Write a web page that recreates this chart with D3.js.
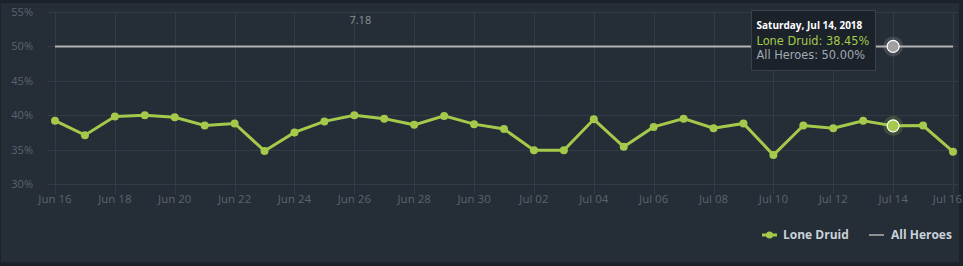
<!DOCTYPE html>
<html>
<head>
<meta charset="utf-8">
<script src="https://cdn.jsdelivr.net/npm/d3@7"></script>
<style>
  body { margin: 0; background: #1b2229; }
  #chart { position: absolute; left: 0; top: 0; }
  text { font-family: "Open Sans", "DejaVu Sans", sans-serif; }
</style>
</head>
<body>
<div id="chart"></div>
<script>
// daily win rate, Jun 16 - Jul 16 2018
var startDay = "2018-06-16";
var loneDruid = [39.2, 37.1, 39.8, 40.0, 39.7, 38.5, 38.8, 34.8, 37.5, 39.1,
                 40.0, 39.5, 38.6, 39.9, 38.7, 38.0, 34.9, 34.9, 39.4, 35.4,
                 38.3, 39.5, 38.1, 38.8, 34.2, 38.5, 38.1, 39.2, 38.45, 38.5, 34.7];
var allHeroes = loneDruid.map(function() { return 50; });
var yTicks = [30, 35, 40, 45, 50, 55];
var patchLabel = {date: "2018-06-26", text: "7.18"};
var hoverIndex = 28;

var W = 963, H = 266;
var parse = d3.utcParse("%Y-%m-%d");
var day0 = parse(startDay);
var dates = loneDruid.map(function(d, i) { return d3.utcDay.offset(day0, i); });

var svg = d3.select("#chart").append("svg").attr("width", W).attr("height", H);

svg.append("rect").attr("x", 1).attr("y", 3).attr("width", 958).attr("height", 259)
  .attr("fill", "#252d37");

var x = d3.scaleUtc().domain([dates[0], dates[dates.length - 1]]).range([55, 953]);
var y = d3.scaleLinear().domain([30, 55]).range([184, 12]);

// horizontal grid
svg.append("g").selectAll("line").data(yTicks).enter().append("line")
  .attr("x1", 47).attr("x2", 958)
  .attr("y1", function(d) { return Math.round(y(d)) + 0.5; })
  .attr("y2", function(d) { return Math.round(y(d)) + 0.5; })
  .attr("stroke", "#333c46").attr("stroke-width", 1);

// vertical grid (every 2 days) running down as ticks
var xTickDates = dates.filter(function(d, i) { return i % 2 === 0; });
svg.append("g").selectAll("line").data(xTickDates).enter().append("line")
  .attr("x1", function(d) { return Math.round(x(d)) + 0.5; })
  .attr("x2", function(d) { return Math.round(x(d)) + 0.5; })
  .attr("y1", 12).attr("y2", 194)
  .attr("stroke", "#333c46").attr("stroke-width", 1);

// y labels
svg.append("g").selectAll("text").data(yTicks).enter().append("text")
  .attr("x", 33).attr("y", function(d) { return y(d) + 4; })
  .attr("text-anchor", "end")
  .attr("fill", "#5b646d").attr("font-size", "11px")
  .text(function(d) { return d + "%"; });

// x labels (last one pulled in so it stays inside the frame)
var fmt = d3.utcFormat("%b %d");
var nT = xTickDates.length;
svg.append("g").selectAll("text").data(xTickDates).enter().append("text")
  .attr("x", function(d, i) { return i === nT - 1 ? 962 : x(d); }).attr("y", 203)
  .attr("text-anchor", function(d, i) { return i === nT - 1 ? "end" : "middle"; })
  .attr("fill", "#5b646d").attr("font-size", "11.5px")
  .text(function(d) { return fmt(d); });

// patch label
svg.append("text")
  .attr("x", x(parse(patchLabel.date)) + 6).attr("y", 24)
  .attr("text-anchor", "middle")
  .attr("fill", "#8a929a").attr("font-size", "11px")
  .text(patchLabel.text);

var line = d3.line()
  .x(function(d, i) { return x(dates[i]); })
  .y(function(d) { return y(d); });

// all heroes
svg.append("path").datum(allHeroes).attr("d", line)
  .attr("fill", "none").attr("stroke", "#b3b3b3").attr("stroke-width", 2);

// lone druid
svg.append("path").datum(loneDruid).attr("d", line)
  .attr("fill", "none").attr("stroke", "#a4c94b").attr("stroke-width", 3);
svg.append("g").selectAll("circle").data(loneDruid).enter().append("circle")
  .attr("cx", function(d, i) { return x(dates[i]); })
  .attr("cy", function(d) { return y(d); })
  .attr("r", 4).attr("fill", "#a4c94b");

// hover markers
var hx = x(dates[hoverIndex]);
[[allHeroes[hoverIndex], "#a0a0a0", "rgba(180,180,180,0.2)"],
 [loneDruid[hoverIndex], "#a4c94b", "rgba(164,201,75,0.2)"]].forEach(function(m) {
  svg.append("circle").attr("cx", hx).attr("cy", y(m[0])).attr("r", 10).attr("fill", m[2]);
  svg.append("circle").attr("cx", hx).attr("cy", y(m[0])).attr("r", 6)
    .attr("fill", m[1]).attr("stroke", "#ffffff").attr("stroke-width", 1.2);
});

// tooltip
var tip = svg.append("g").attr("transform", "translate(751.5,10.5)");
tip.append("rect").attr("width", 124).attr("height", 60)
  .attr("fill", "#1b222a").attr("stroke", "#39424b");
tip.append("text").attr("x", 5).attr("y", 18).attr("fill", "#ffffff")
  .attr("font-size", "10px").attr("font-weight", "bold")
  .text(d3.utcFormat("%A, %b %d, %Y")(dates[hoverIndex]));
tip.append("text").attr("x", 5).attr("y", 34).attr("fill", "#a4c94b")
  .style("font-family", "'DejaVu Sans', sans-serif")
  .attr("font-size", "11.4px").text("Lone Druid: " + loneDruid[hoverIndex].toFixed(2) + "%");
tip.append("text").attr("x", 5).attr("y", 48).attr("fill", "#a2aab2")
  .style("font-family", "'DejaVu Sans', sans-serif")
  .attr("font-size", "11.4px").text("All Heroes: " + allHeroes[hoverIndex].toFixed(2) + "%");

// legend
var lg = svg.append("g").attr("transform", "translate(0,235)");
lg.append("line").attr("x1", 762).attr("x2", 777).attr("y1", 0).attr("y2", 0)
  .attr("stroke", "#a4c94b").attr("stroke-width", 3);
lg.append("circle").attr("cx", 769.5).attr("cy", 0).attr("r", 3.5).attr("fill", "#a4c94b");
lg.append("text").attr("x", 783).attr("y", 4).attr("fill", "#c9d1da")
  .attr("font-size", "12px").attr("font-weight", "bold").text("Lone Druid");
lg.append("line").attr("x1", 869).attr("x2", 884).attr("y1", 0).attr("y2", 0)
  .attr("stroke", "#8f8f8f").attr("stroke-width", 2);
lg.append("text").attr("x", 891).attr("y", 4).attr("fill", "#c9d1da")
  .attr("font-size", "12px").attr("font-weight", "bold").text("All Heroes");
</script>
</body>
</html>
